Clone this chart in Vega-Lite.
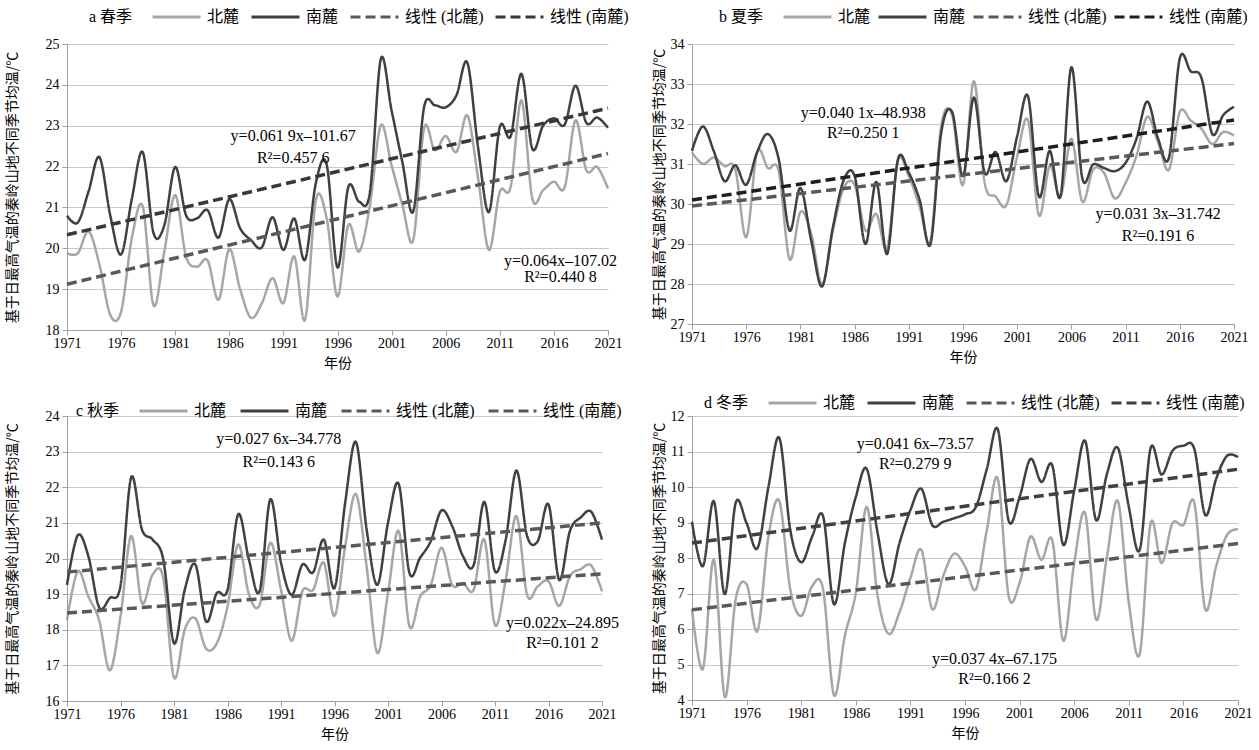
{
  "$schema": "https://vega.github.io/schema/vega-lite/v6.json",
  "background": "white",
  "padding": {"left": 5, "top": 7, "right": 2, "bottom": 2},
  "datasets": {
    "obs": [
      {"p":"a","yr":1971,"北麓":19.88,"南麓":20.8},{"p":"a","yr":1972,"北麓":19.88,"南麓":20.63},{"p":"a","yr":1973,"北麓":20.41,"南麓":21.4},{"p":"a","yr":1974,"北麓":19.6,"南麓":22.23},{"p":"a","yr":1975,"北麓":18.37,"南麓":20.8},{"p":"a","yr":1976,"北麓":18.45,"南麓":19.85},{"p":"a","yr":1977,"北麓":20.26,"南麓":21.22},{"p":"a","yr":1978,"北麓":21.02,"南麓":22.35},{"p":"a","yr":1979,"北麓":18.6,"南麓":20.37},{"p":"a","yr":1980,"北麓":19.93,"南麓":20.57},
      {"p":"a","yr":1981,"北麓":21.3,"南麓":21.99},{"p":"a","yr":1982,"北麓":19.8,"南麓":20.81},{"p":"a","yr":1983,"北麓":19.55,"南麓":20.73},{"p":"a","yr":1984,"北麓":19.7,"南麓":20.93},{"p":"a","yr":1985,"北麓":18.74,"南麓":20.26},{"p":"a","yr":1986,"北麓":19.98,"南麓":21.2},{"p":"a","yr":1987,"北麓":19.0,"南麓":20.49},{"p":"a","yr":1988,"北麓":18.3,"南麓":20.2},{"p":"a","yr":1989,"北麓":18.65,"南麓":20.02},{"p":"a","yr":1990,"北麓":19.27,"南麓":20.76},
      {"p":"a","yr":1991,"北麓":18.66,"南麓":19.96},{"p":"a","yr":1992,"北麓":19.8,"南麓":20.73},{"p":"a","yr":1993,"北麓":18.25,"南麓":19.72},{"p":"a","yr":1994,"北麓":21.18,"南麓":21.6},{"p":"a","yr":1995,"北麓":20.73,"南麓":22.05},{"p":"a","yr":1996,"北麓":18.82,"南麓":19.53},{"p":"a","yr":1997,"北麓":20.57,"南麓":21.5},{"p":"a","yr":1998,"北麓":19.92,"南麓":21.14},{"p":"a","yr":1999,"北麓":21.06,"南麓":21.38},{"p":"a","yr":2000,"北麓":23.01,"南麓":24.63},
      {"p":"a","yr":2001,"北麓":22.03,"南麓":23.37},{"p":"a","yr":2002,"北麓":21.06,"南麓":22.1},{"p":"a","yr":2003,"北麓":20.2,"南麓":20.9},{"p":"a","yr":2004,"北麓":22.93,"南麓":23.45},{"p":"a","yr":2005,"北麓":22.4,"南麓":23.5},{"p":"a","yr":2006,"北麓":22.75,"南麓":23.45},{"p":"a","yr":2007,"北麓":22.36,"南麓":23.75},{"p":"a","yr":2008,"北麓":23.25,"南麓":24.54},{"p":"a","yr":2009,"北麓":21.7,"南麓":22.45},{"p":"a","yr":2010,"北麓":19.96,"南麓":20.89},
      {"p":"a","yr":2011,"北麓":21.38,"南麓":22.97},{"p":"a","yr":2012,"北麓":21.5,"南麓":22.74},{"p":"a","yr":2013,"北麓":23.62,"南麓":24.27},{"p":"a","yr":2014,"北麓":21.22,"南麓":22.44},{"p":"a","yr":2015,"北麓":21.42,"南麓":23.0},{"p":"a","yr":2016,"北麓":21.63,"南麓":23.18},{"p":"a","yr":2017,"北麓":21.5,"南麓":23.03},{"p":"a","yr":2018,"北麓":23.13,"南麓":23.98},{"p":"a","yr":2019,"北麓":21.91,"南麓":23.07},{"p":"a","yr":2020,"北麓":21.99,"南麓":23.2},{"p":"a","yr":2021,"北麓":21.46,"南麓":22.95},

      {"p":"b","yr":1971,"北麓":31.29,"南麓":31.33},{"p":"b","yr":1972,"北麓":31.0,"南麓":31.94},{"p":"b","yr":1973,"北麓":31.16,"南麓":31.33},{"p":"b","yr":1974,"北麓":30.95,"南麓":30.57},{"p":"b","yr":1975,"北麓":30.86,"南麓":30.97},{"p":"b","yr":1976,"北麓":29.17,"南麓":30.48},{"p":"b","yr":1977,"北麓":31.29,"南麓":31.29},{"p":"b","yr":1978,"北麓":30.9,"南麓":31.75},{"p":"b","yr":1979,"北麓":30.82,"南麓":31.12},{"p":"b","yr":1980,"北麓":28.62,"南麓":29.34},
      {"p":"b","yr":1981,"北麓":29.8,"南麓":30.4},{"p":"b","yr":1982,"北麓":29.25,"南麓":29.08},{"p":"b","yr":1983,"北麓":27.98,"南麓":27.94},{"p":"b","yr":1984,"北麓":29.34,"南麓":29.42},{"p":"b","yr":1985,"北麓":30.4,"南麓":30.6},{"p":"b","yr":1986,"北麓":30.48,"南麓":30.7},{"p":"b","yr":1987,"北麓":29.34,"南麓":29.0},{"p":"b","yr":1988,"北麓":29.75,"南麓":30.55},{"p":"b","yr":1989,"北麓":28.9,"南麓":28.75},{"p":"b","yr":1990,"北麓":31.08,"南麓":31.12},
      {"p":"b","yr":1991,"北麓":30.7,"南麓":30.78},{"p":"b","yr":1992,"北麓":29.93,"南麓":30.1},{"p":"b","yr":1993,"北麓":29.08,"南麓":29.0},{"p":"b","yr":1994,"北麓":31.97,"南麓":31.8},{"p":"b","yr":1995,"北麓":32.22,"南麓":32.3},{"p":"b","yr":1996,"北麓":30.48,"南麓":30.7},{"p":"b","yr":1997,"北麓":33.07,"南麓":32.66},{"p":"b","yr":1998,"北麓":30.53,"南麓":30.78},{"p":"b","yr":1999,"北麓":30.19,"南麓":31.3},{"p":"b","yr":2000,"北麓":29.97,"南麓":30.57},
      {"p":"b","yr":2001,"北麓":31.2,"南麓":31.7},{"p":"b","yr":2002,"北麓":32.09,"南麓":32.69},{"p":"b","yr":2003,"北麓":29.72,"南麓":30.19},{"p":"b","yr":2004,"北麓":30.95,"南麓":31.33},{"p":"b","yr":2005,"北麓":30.19,"南麓":30.2},{"p":"b","yr":2006,"北麓":31.63,"南麓":33.42},{"p":"b","yr":2007,"北麓":30.06,"南麓":30.65},{"p":"b","yr":2008,"北麓":30.86,"南麓":30.99},{"p":"b","yr":2009,"北麓":30.78,"南麓":30.9},{"p":"b","yr":2010,"北麓":30.14,"南麓":30.82},
      {"p":"b","yr":2011,"北麓":30.53,"南麓":31.03},{"p":"b","yr":2012,"北麓":31.2,"南麓":31.63},{"p":"b","yr":2013,"北麓":32.18,"南麓":32.56},{"p":"b","yr":2014,"北麓":31.54,"南麓":31.63},{"p":"b","yr":2015,"北麓":30.86,"南麓":31.16},{"p":"b","yr":2016,"北麓":32.3,"南麓":33.64},{"p":"b","yr":2017,"北麓":32.09,"南麓":33.32},{"p":"b","yr":2018,"北麓":31.88,"南麓":33.15},{"p":"b","yr":2019,"北麓":31.5,"南麓":31.75},{"p":"b","yr":2020,"北麓":31.8,"南麓":32.22},{"p":"b","yr":2021,"北麓":31.71,"南麓":32.43},

      {"p":"c","yr":1971,"北麓":18.27,"南麓":19.26},{"p":"c","yr":1972,"北麓":19.64,"南麓":20.65},{"p":"c","yr":1973,"北麓":18.93,"南麓":20.06},{"p":"c","yr":1974,"北麓":18.27,"南麓":18.63},{"p":"c","yr":1975,"北麓":16.86,"南麓":18.89},{"p":"c","yr":1976,"北麓":18.37,"南麓":19.24},{"p":"c","yr":1977,"北麓":20.63,"南麓":22.28},{"p":"c","yr":1978,"北麓":18.75,"南麓":20.82},{"p":"c","yr":1979,"北麓":19.55,"南麓":20.53},{"p":"c","yr":1980,"北麓":19.45,"南麓":19.97},
      {"p":"c","yr":1981,"北麓":16.66,"南麓":17.62},{"p":"c","yr":1982,"北麓":18.0,"南麓":19.12},{"p":"c","yr":1983,"北麓":18.32,"南麓":19.83},{"p":"c","yr":1984,"北麓":17.47,"南麓":18.23},{"p":"c","yr":1985,"北麓":17.62,"南麓":19.03},{"p":"c","yr":1986,"北麓":18.65,"南麓":19.12},{"p":"c","yr":1987,"北麓":20.39,"南麓":21.24},{"p":"c","yr":1988,"北麓":19.0,"南麓":19.97},{"p":"c","yr":1989,"北麓":18.7,"南麓":19.08},{"p":"c","yr":1990,"北麓":20.44,"南麓":21.66},
      {"p":"c","yr":1991,"北麓":19.12,"南麓":19.88},{"p":"c","yr":1992,"北麓":17.69,"南麓":18.98},{"p":"c","yr":1993,"北麓":19.08,"南麓":19.83},{"p":"c","yr":1994,"北麓":19.12,"南麓":19.61},{"p":"c","yr":1995,"北麓":19.88,"南麓":20.53},{"p":"c","yr":1996,"北麓":18.39,"南麓":19.17},{"p":"c","yr":1997,"北麓":20.35,"南麓":21.57},{"p":"c","yr":1998,"北麓":21.81,"南麓":23.27},{"p":"c","yr":1999,"北麓":19.78,"南麓":20.82},{"p":"c","yr":2000,"北麓":17.35,"南麓":19.26},
      {"p":"c","yr":2001,"北麓":19.03,"南麓":21.0},{"p":"c","yr":2002,"北麓":20.77,"南麓":22.09},{"p":"c","yr":2003,"北麓":18.1,"南麓":19.6},{"p":"c","yr":2004,"北麓":18.93,"南麓":20.02},{"p":"c","yr":2005,"北麓":19.26,"南麓":20.49},{"p":"c","yr":2006,"北麓":20.3,"南麓":21.35},{"p":"c","yr":2007,"北麓":19.26,"南麓":20.91},{"p":"c","yr":2008,"北麓":19.31,"南麓":20.07},{"p":"c","yr":2009,"北麓":19.12,"南麓":19.81},{"p":"c","yr":2010,"北麓":20.53,"南麓":21.59},
      {"p":"c","yr":2011,"北麓":18.13,"南麓":19.64},{"p":"c","yr":2012,"北麓":19.4,"南麓":20.53},{"p":"c","yr":2013,"北麓":21.19,"南麓":22.47},{"p":"c","yr":2014,"北麓":18.98,"南麓":20.63},{"p":"c","yr":2015,"北麓":19.22,"南麓":20.49},{"p":"c","yr":2016,"北麓":19.36,"南麓":21.52},{"p":"c","yr":2017,"北麓":18.67,"南麓":19.4},{"p":"c","yr":2018,"北麓":19.5,"南麓":20.77},{"p":"c","yr":2019,"北麓":19.7,"南麓":21.15},{"p":"c","yr":2020,"北麓":19.8,"南麓":21.31},{"p":"c","yr":2021,"北麓":19.08,"南麓":20.53},

      {"p":"d","yr":1971,"北麓":6.56,"南麓":9.02},{"p":"d","yr":1972,"北麓":4.88,"南麓":7.77},{"p":"d","yr":1973,"北麓":7.95,"南麓":9.6},{"p":"d","yr":1974,"北麓":4.09,"南麓":6.98},{"p":"d","yr":1975,"北麓":6.84,"南麓":9.55},{"p":"d","yr":1976,"北麓":7.26,"南麓":8.98},{"p":"d","yr":1977,"北麓":5.95,"南麓":8.28},{"p":"d","yr":1978,"北麓":8.6,"南麓":10.0},{"p":"d","yr":1979,"北麓":9.6,"南麓":11.38},{"p":"d","yr":1980,"北麓":7.12,"南麓":8.79},
      {"p":"d","yr":1981,"北麓":6.37,"南麓":7.88},{"p":"d","yr":1982,"北麓":7.21,"南麓":8.6},{"p":"d","yr":1983,"北麓":7.12,"南麓":9.18},{"p":"d","yr":1984,"北麓":4.14,"南麓":6.7},{"p":"d","yr":1985,"北麓":5.81,"南麓":8.42},{"p":"d","yr":1986,"北麓":7.02,"南麓":9.72},{"p":"d","yr":1987,"北麓":9.44,"南麓":10.51},{"p":"d","yr":1988,"北麓":6.93,"南麓":8.7},{"p":"d","yr":1989,"北麓":5.86,"南麓":7.26},{"p":"d","yr":1990,"北麓":6.47,"南麓":8.42},
      {"p":"d","yr":1991,"北麓":7.44,"南麓":9.35},{"p":"d","yr":1992,"北麓":8.23,"南麓":9.95},{"p":"d","yr":1993,"北麓":6.56,"南麓":8.93},{"p":"d","yr":1994,"北麓":7.49,"南麓":9.02},{"p":"d","yr":1995,"北麓":8.12,"南麓":9.12},{"p":"d","yr":1996,"北麓":7.77,"南麓":9.23},{"p":"d","yr":1997,"北麓":7.12,"南麓":9.44},{"p":"d","yr":1998,"北麓":8.79,"南麓":10.51},{"p":"d","yr":1999,"北麓":10.23,"南麓":11.63},{"p":"d","yr":2000,"北麓":6.93,"南麓":9.05},
      {"p":"d","yr":2001,"北麓":7.3,"南麓":9.72},{"p":"d","yr":2002,"北麓":8.6,"南麓":10.79},{"p":"d","yr":2003,"北麓":7.95,"南麓":10.14},{"p":"d","yr":2004,"北麓":8.49,"南麓":10.6},{"p":"d","yr":2005,"北麓":5.67,"南麓":8.37},{"p":"d","yr":2006,"北麓":7.86,"南麓":9.9},{"p":"d","yr":2007,"北麓":9.26,"南麓":11.3},{"p":"d","yr":2008,"北麓":6.27,"南麓":9.07},{"p":"d","yr":2009,"北麓":8.05,"南麓":10.37},{"p":"d","yr":2010,"北麓":9.6,"南麓":11.1},
      {"p":"d","yr":2011,"北麓":6.75,"南麓":9.44},{"p":"d","yr":2012,"北麓":5.3,"南麓":8.23},{"p":"d","yr":2013,"北麓":8.98,"南麓":11.1},{"p":"d","yr":2014,"北麓":7.86,"南麓":10.35},{"p":"d","yr":2015,"北麓":8.98,"南麓":11.02},{"p":"d","yr":2016,"北麓":8.93,"南麓":11.16},{"p":"d","yr":2017,"北麓":9.55,"南麓":11.07},{"p":"d","yr":2018,"北麓":6.56,"南麓":9.21},{"p":"d","yr":2019,"北麓":7.77,"南麓":10.23},{"p":"d","yr":2020,"北麓":8.65,"南麓":10.88},{"p":"d","yr":2021,"北麓":8.81,"南麓":10.84}
    ],
    "trend": [
      {"p":"a","yr":1971,"k":"线性 (北麓)","v":19.12},{"p":"a","yr":2021,"k":"线性 (北麓)","v":22.32},
      {"p":"a","yr":1971,"k":"线性 (南麓)","v":20.33},{"p":"a","yr":2021,"k":"线性 (南麓)","v":23.43},
      {"p":"b","yr":1971,"k":"线性 (北麓)","v":29.95},{"p":"b","yr":2021,"k":"线性 (北麓)","v":31.51},
      {"p":"b","yr":1971,"k":"线性 (南麓)","v":30.10},{"p":"b","yr":2021,"k":"线性 (南麓)","v":32.10},
      {"p":"c","yr":1971,"k":"线性 (北麓)","v":18.47},{"p":"c","yr":2021,"k":"线性 (北麓)","v":19.57},
      {"p":"c","yr":1971,"k":"线性 (南麓)","v":19.62},{"p":"c","yr":2021,"k":"线性 (南麓)","v":21.0},
      {"p":"d","yr":1971,"k":"线性 (北麓)","v":6.54},{"p":"d","yr":2021,"k":"线性 (北麓)","v":8.41},
      {"p":"d","yr":1971,"k":"线性 (南麓)","v":8.42},{"p":"d","yr":2021,"k":"线性 (南麓)","v":10.50}
    ],
    "notes": [
      {"p":"a","yr":1991.9,"v":22.74,"t":"y=0.061 9x–101.67"},{"p":"a","yr":1991.9,"v":22.2,"t":"R²=0.457 6"},
      {"p":"a","yr":2016.6,"v":19.69,"t":"y=0.064x–107.02"},{"p":"a","yr":2016.6,"v":19.3,"t":"R²=0.440 8"},
      {"p":"b","yr":1986.8,"v":32.28,"t":"y=0.040 1x–48.938"},{"p":"b","yr":1986.8,"v":31.77,"t":"R²=0.250 1"},
      {"p":"b","yr":2014.0,"v":29.76,"t":"y=0.031 3x–31.742"},{"p":"b","yr":2014.0,"v":29.21,"t":"R²=0.191 6"},
      {"p":"c","yr":1990.8,"v":23.36,"t":"y=0.027 6x–34.778"},{"p":"c","yr":1990.8,"v":22.7,"t":"R²=0.143 6"},
      {"p":"c","yr":2017.3,"v":18.18,"t":"y=0.022x–24.895"},{"p":"c","yr":2017.3,"v":17.62,"t":"R²=0.101 2"},
      {"p":"d","yr":1991.45,"v":11.21,"t":"y=0.041 6x–73.57"},{"p":"d","yr":1991.45,"v":10.65,"t":"R²=0.279 9"},
      {"p":"d","yr":1998.7,"v":5.16,"t":"y=0.037 4x–67.175"},{"p":"d","yr":1998.7,"v":4.6,"t":"R²=0.166 2"}
    ]
  },
  "columns": 2,
  "spacing": {"row": 23, "column": 22},
  "concat": [
    {
      "width": 541, "height": 286,
      "encoding": {
        "x": {"field": "yr", "type": "quantitative", "scale": {"domain": [1971, 2021], "nice": false, "zero": false}, "axis": {"values": [1971,1976,1981,1986,1991,1996,2001,2006,2011,2016,2021], "title": "年份"}},
        "y": {"field": "v", "type": "quantitative", "scale": {"domain": [18, 25], "nice": false, "zero": false}, "axis": {"values": [18,19,20,21,22,23,24,25], "title": "基于日最高气温的秦岭山地不同季节均温/℃", "titlePadding": 26}}
      },
      "layer": [
        {"data": {"name": "obs"}, "transform": [{"filter": "datum.p === 'a'"}, {"fold": ["北麓", "南麓"], "as": ["k", "v"]}],
         "mark": {"type": "line", "interpolate": "cardinal", "strokeWidth": 2.5},
         "encoding": {
           "color": {"field": "k", "type": "nominal", "title": "a 春季", "scale": {"domain": ["北麓","南麓","线性 (北麓)","线性 (南麓)"], "range": ["#a6a6a6","#404040","#595959","#383838"]}, "legend": {"legendX": 22, "legendY": -37, "columnPadding": 10}},
           "strokeDash": {"field": "k", "type": "nominal", "title": "a 春季", "scale": {"domain": ["北麓","南麓","线性 (北麓)","线性 (南麓)"], "range": [[1,0],[1,0],[10,5],[10,5]]}, "legend": {"legendX": 22, "legendY": -37, "columnPadding": 10}}
         }},
        {"data": {"name": "trend"}, "transform": [{"filter": "datum.p === 'a'"}],
         "mark": {"type": "line", "strokeWidth": 3.5},
         "encoding": {
           "color": {"field": "k", "type": "nominal", "title": "a 春季"},
           "strokeDash": {"field": "k", "type": "nominal", "title": "a 春季"}
         }},
        {"data": {"name": "notes"}, "transform": [{"filter": "datum.p === 'a'"}],
         "mark": {"type": "text", "font": "Liberation Serif", "fontSize": 16, "color": "#000"},
         "encoding": {"text": {"field": "t"}}}
      ]
    },
    {
      "width": 542, "height": 280,
      "encoding": {
        "x": {"field": "yr", "type": "quantitative", "scale": {"domain": [1971, 2021], "nice": false, "zero": false}, "axis": {"values": [1971,1976,1981,1986,1991,1996,2001,2006,2011,2016,2021], "title": "年份"}},
        "y": {"field": "v", "type": "quantitative", "scale": {"domain": [27, 34], "nice": false, "zero": false}, "axis": {"values": [27,28,29,30,31,32,33,34], "title": "基于日最高气温的秦岭山地不同季节均温/℃", "titlePadding": 4}}
      },
      "layer": [
        {"data": {"name": "obs"}, "transform": [{"filter": "datum.p === 'b'"}, {"fold": ["北麓", "南麓"], "as": ["k", "v"]}],
         "mark": {"type": "line", "interpolate": "cardinal", "strokeWidth": 2.5},
         "encoding": {
           "color": {"field": "k", "type": "nominal", "title": "b 夏季", "scale": {"domain": ["北麓","南麓","线性 (北麓)","线性 (南麓)"], "range": ["#a6a6a6","#404040","#595959","#1e1e1e"]}, "legend": {"legendX": 27, "legendY": -37, "columnPadding": 6}},
           "strokeDash": {"field": "k", "type": "nominal", "title": "b 夏季", "scale": {"domain": ["北麓","南麓","线性 (北麓)","线性 (南麓)"], "range": [[1,0],[1,0],[10,5],[10,5]]}, "legend": {"legendX": 27, "legendY": -37, "columnPadding": 6}}
         }},
        {"data": {"name": "trend"}, "transform": [{"filter": "datum.p === 'b'"}],
         "mark": {"type": "line", "strokeWidth": 3.5},
         "encoding": {
           "color": {"field": "k", "type": "nominal", "title": "b 夏季"},
           "strokeDash": {"field": "k", "type": "nominal", "title": "b 夏季"}
         }},
        {"data": {"name": "notes"}, "transform": [{"filter": "datum.p === 'b'"}],
         "mark": {"type": "text", "font": "Liberation Serif", "fontSize": 16, "color": "#000"},
         "encoding": {"text": {"field": "t"}}}
      ]
    },
    {
      "width": 535, "height": 285,
      "encoding": {
        "x": {"field": "yr", "type": "quantitative", "scale": {"domain": [1971, 2021], "nice": false, "zero": false}, "axis": {"values": [1971,1976,1981,1986,1991,1996,2001,2006,2011,2016,2021], "title": "年份"}},
        "y": {"field": "v", "type": "quantitative", "scale": {"domain": [16, 24], "nice": false, "zero": false}, "axis": {"values": [16,17,18,19,20,21,22,23,24], "title": "基于日最高气温的秦岭山地不同季节均温/℃", "titlePadding": 26}}
      },
      "layer": [
        {"data": {"name": "obs"}, "transform": [{"filter": "datum.p === 'c'"}, {"fold": ["北麓", "南麓"], "as": ["k", "v"]}],
         "mark": {"type": "line", "interpolate": "cardinal", "strokeWidth": 2.5},
         "encoding": {
           "color": {"field": "k", "type": "nominal", "title": "c 秋季", "scale": {"domain": ["北麓","南麓","线性 (北麓)","线性 (南麓)"], "range": ["#a6a6a6","#404040","#595959","#595959"]}, "legend": {"legendX": 9, "legendY": -15, "columnPadding": 12}},
           "strokeDash": {"field": "k", "type": "nominal", "title": "c 秋季", "scale": {"domain": ["北麓","南麓","线性 (北麓)","线性 (南麓)"], "range": [[1,0],[1,0],[10,5],[10,5]]}, "legend": {"legendX": 9, "legendY": -15, "columnPadding": 12}}
         }},
        {"data": {"name": "trend"}, "transform": [{"filter": "datum.p === 'c'"}],
         "mark": {"type": "line", "strokeWidth": 3.5},
         "encoding": {
           "color": {"field": "k", "type": "nominal", "title": "c 秋季"},
           "strokeDash": {"field": "k", "type": "nominal", "title": "c 秋季"}
         }},
        {"data": {"name": "notes"}, "transform": [{"filter": "datum.p === 'c'"}],
         "mark": {"type": "text", "font": "Liberation Serif", "fontSize": 16, "color": "#000"},
         "encoding": {"text": {"field": "t"}}}
      ]
    },
    {
      "width": 546, "height": 284,
      "encoding": {
        "x": {"field": "yr", "type": "quantitative", "scale": {"domain": [1971, 2021], "nice": false, "zero": false}, "axis": {"values": [1971,1976,1981,1986,1991,1996,2001,2006,2011,2016,2021], "title": "年份"}},
        "y": {"field": "v", "type": "quantitative", "scale": {"domain": [4, 12], "nice": false, "zero": false}, "axis": {"values": [4,5,6,7,8,9,10,11,12], "title": "基于日最高气温的秦岭山地不同季节均温/℃", "titlePadding": 4}}
      },
      "layer": [
        {"data": {"name": "obs"}, "transform": [{"filter": "datum.p === 'd'"}, {"fold": ["北麓", "南麓"], "as": ["k", "v"]}],
         "mark": {"type": "line", "interpolate": "cardinal", "strokeWidth": 2.5},
         "encoding": {
           "color": {"field": "k", "type": "nominal", "title": "d 冬季", "scale": {"domain": ["北麓","南麓","线性 (北麓)","线性 (南麓)"], "range": ["#a6a6a6","#404040","#595959","#404040"]}, "legend": {"legendX": 12, "legendY": -23, "columnPadding": 10}},
           "strokeDash": {"field": "k", "type": "nominal", "title": "d 冬季", "scale": {"domain": ["北麓","南麓","线性 (北麓)","线性 (南麓)"], "range": [[1,0],[1,0],[10,5],[10,5]]}, "legend": {"legendX": 12, "legendY": -23, "columnPadding": 10}}
         }},
        {"data": {"name": "trend"}, "transform": [{"filter": "datum.p === 'd'"}],
         "mark": {"type": "line", "strokeWidth": 3.5},
         "encoding": {
           "color": {"field": "k", "type": "nominal", "title": "d 冬季"},
           "strokeDash": {"field": "k", "type": "nominal", "title": "d 冬季"}
         }},
        {"data": {"name": "notes"}, "transform": [{"filter": "datum.p === 'd'"}],
         "mark": {"type": "text", "font": "Liberation Serif", "fontSize": 16, "color": "#000"},
         "encoding": {"text": {"field": "t"}}}
      ]
    }
  ],
  "resolve": {
    "scale": {"x": "independent", "y": "independent", "color": "independent", "strokeDash": "independent"},
    "legend": {"color": "independent", "strokeDash": "independent"}
  },
  "config": {
    "font": "Liberation Serif",
    "view": {"stroke": null},
    "axis": {"labelFont": "Liberation Serif", "labelFontSize": 14, "labelColor": "#000", "titleFont": "Noto Sans CJK SC", "titleFontSize": 14, "titleFontWeight": "normal", "titleColor": "#000", "domainColor": "#a0a0a0", "tickColor": "#a0a0a0", "gridColor": "#c8c8c8", "tickSize": 5, "labelFlush": false},
    "axisX": {"grid": false, "format": "d", "labelPadding": 1, "titlePadding": 6},
    "axisY": {"grid": true, "labelPadding": 3},
    "legend": {"orient": "none", "direction": "horizontal", "titleOrient": "left", "titleBaseline": "middle", "symbolType": "stroke", "symbolSize": 2300, "clipHeight": 20, "symbolStrokeWidth": 3, "labelFont": "Liberation Serif, Noto Sans CJK SC", "labelFontSize": 16, "labelColor": "#000", "titleFont": "Liberation Serif, Noto Sans CJK SC", "titleFontSize": 16, "titleFontWeight": "normal", "titleColor": "#000", "titlePadding": 18, "labelOffset": 5}
  }
}
